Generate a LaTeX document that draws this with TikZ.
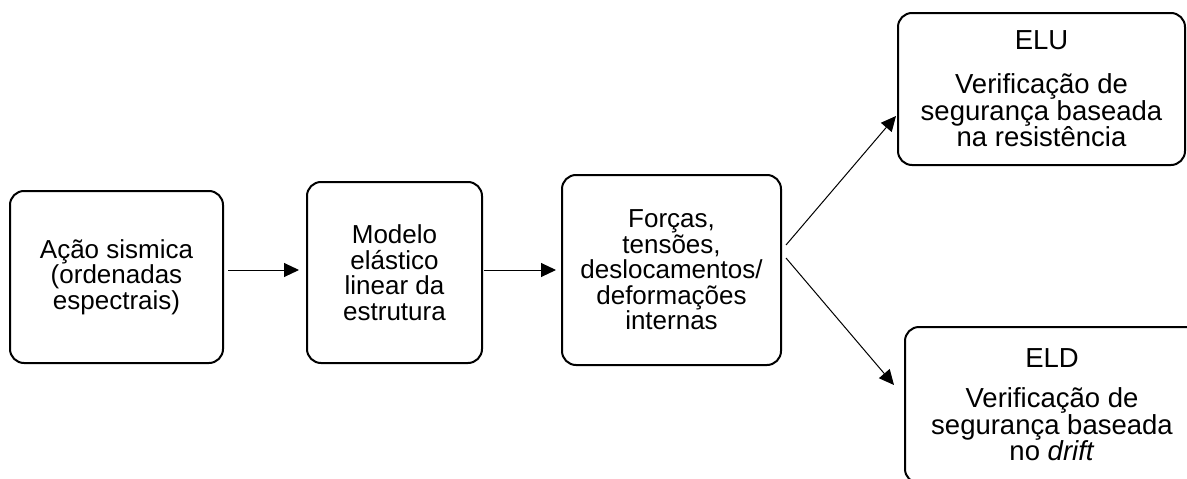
\documentclass[tikz,border=0pt]{standalone}
\usepackage{fontspec}
\setmainfont{Liberation Sans}
\usetikzlibrary{arrows.meta,calc}
\begin{document}
\begin{tikzpicture}[x=1pt,y=-1pt,
  box/.style={draw=black,line width=2pt,rounded corners=14pt,align=center,
    inner sep=0pt,font=\fontsize{26pt}{25.5pt}\selectfont},
  bigbox/.style={box,font=\fontsize{27.5pt}{25.5pt}\selectfont},
  arr/.style={draw=black,line width=1pt,-{Triangle[length=15pt,width=14pt]}}]
\useasboundingbox (0,0) rectangle (1187,479);
\node[box,minimum width=213pt,minimum height=172pt] (b1) at (116.5,277)
  {Ação sismica\\(ordenadas\\espectrais)};
\node[box,minimum width=175pt,minimum height=181pt] (b2) at (394.5,272.5)
  {Modelo\\elástico\\linear da\\estrutura};
\node[box,minimum width=219pt,minimum height=190pt] (b3) at (671.5,270)
  {Forças,\\tensões,\\deslocamentos/\\deformações\\internas};
\node[bigbox,minimum width=287pt,minimum height=152pt] (elu) at (1041.5,89)
  {ELU\\[18pt]Verificação de\\segurança baseada\\na resistência};
\node[bigbox,minimum width=294pt,minimum height=156pt] (eld) at (1052,405)
  {ELD\\[14pt]Verificação de\\segurança baseada\\no \textit{drift}};
\draw[arr] ($(b1.east)+(4,-7)$) -- ($(b2.west)+(-7,-2.5)$);
\draw[arr] ($(b2.east)+(1,-2.5)$) -- ($(b3.west)+(-5,0)$);
\draw[arr] ($(b3.east)+(4,-25)$) -- ($(elu.west)+(-1,27)$);
\draw[arr] ($(b3.east)+(4,-12)$) -- ($(eld.west)+(-10,-20)$);
\end{tikzpicture}
\end{document}
